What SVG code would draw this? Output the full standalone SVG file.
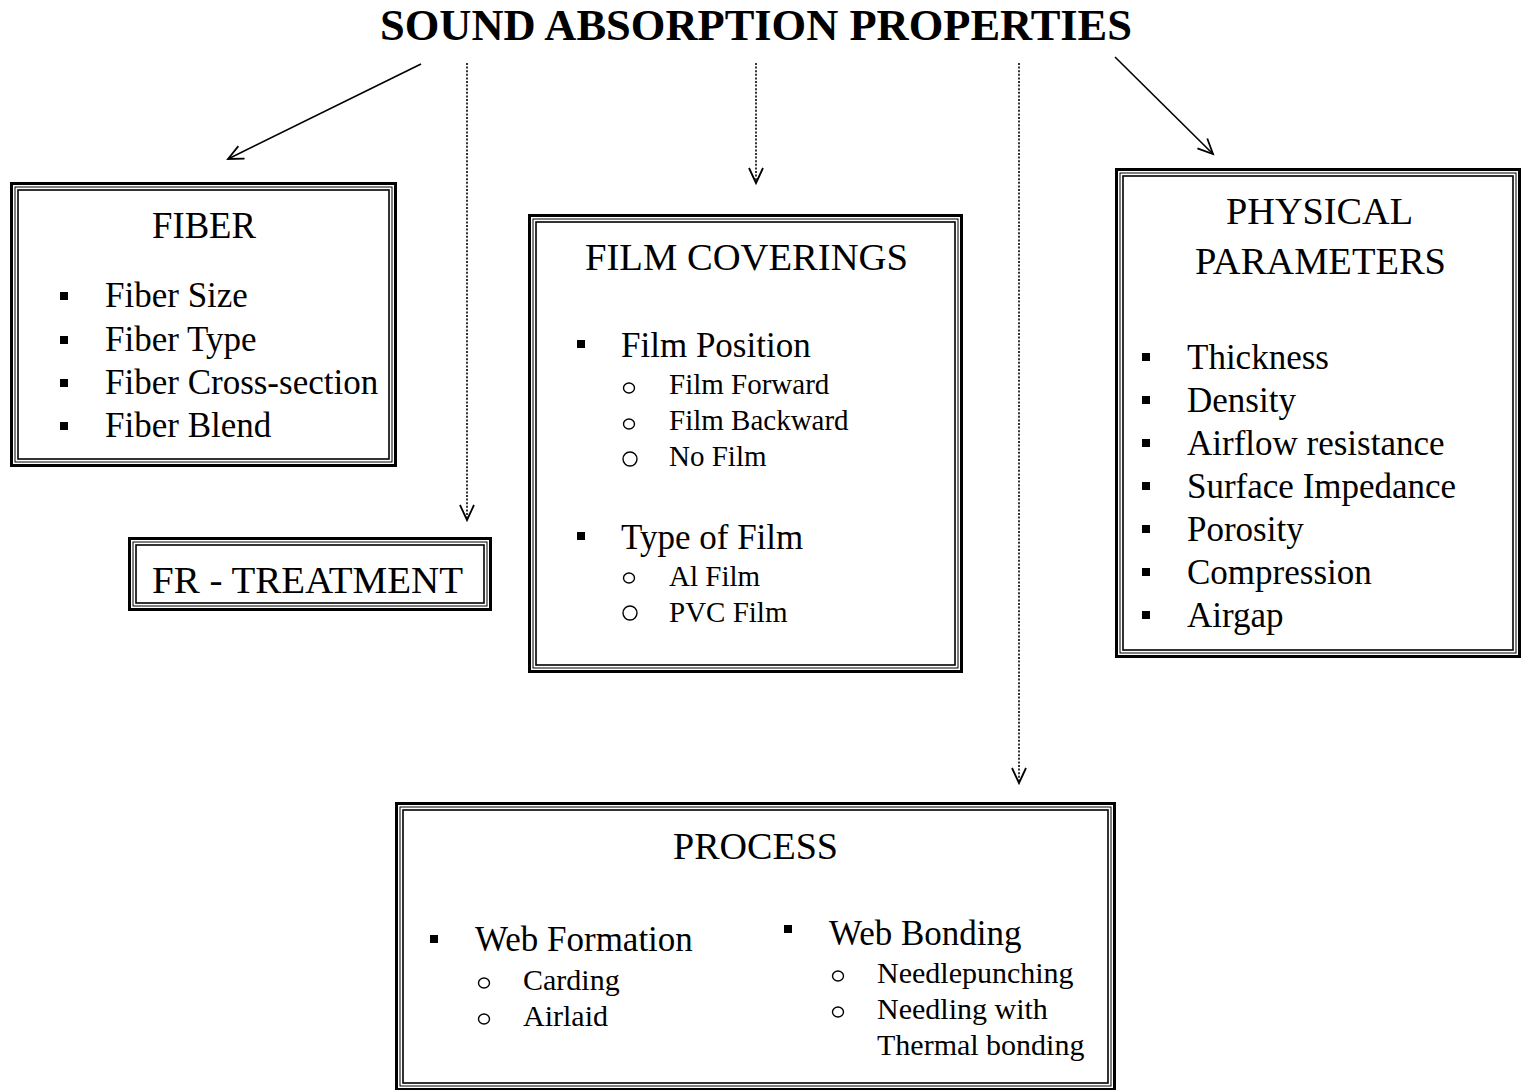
<svg xmlns="http://www.w3.org/2000/svg" width="1522" height="1090" viewBox="0 0 1522 1090">
<style>
text{font-family:"Liberation Serif","Times New Roman",serif;fill:#000}
.title{font-size:44px;font-weight:bold}
.head{font-size:38px}
.item{font-size:35px}
.sub{font-size:29px}
.sub2{font-size:30px}
.b1{fill:none;stroke:#000;stroke-width:3}
.b2{fill:none;stroke:#000;stroke-width:1}
.b3{fill:none;stroke:#000;stroke-width:1.6}
.sq{fill:#000}
.ci{fill:none;stroke:#000;stroke-width:1.4}
.solid{fill:none;stroke:#000;stroke-width:1.6}
.dot{fill:none;stroke:#333;stroke-width:2;stroke-dasharray:2 1.6}
</style>
<defs>
<marker id="ah" markerUnits="userSpaceOnUse" markerWidth="24" markerHeight="24" refX="16" refY="8" orient="auto" viewBox="0 0 24 16">
<path d="M1,1 L16,8 L1,15" fill="none" stroke="#000" stroke-width="1.8" stroke-dasharray="none"/>
</marker>
</defs>

<text class="title" x="380" y="40" textLength="752" lengthAdjust="spacingAndGlyphs">SOUND ABSORPTION PROPERTIES</text>

<g id="connectors">
<line class="solid" x1="421" y1="64" x2="228" y2="159" marker-end="url(#ah)"/>
<line class="dot" x1="467" y1="63" x2="467" y2="520" marker-end="url(#ah)"/>
<line class="dot" x1="756" y1="63" x2="756" y2="183" marker-end="url(#ah)"/>
<line class="dot" x1="1019" y1="63" x2="1019" y2="783" marker-end="url(#ah)"/>
<line class="solid" x1="1115" y1="57" x2="1213" y2="154" marker-end="url(#ah)"/>
</g>

<g id="fiber">
<rect class="b1" x="11.5" y="183.5" width="384" height="282"/>
<rect class="b2" x="15" y="187" width="377" height="275"/>
<rect class="b3" x="18" y="190" width="371" height="269"/>
<text class="head" x="204" y="238" text-anchor="middle" textLength="104" lengthAdjust="spacingAndGlyphs">FIBER</text>
<rect class="sq" x="60" y="292" width="8" height="8"/>
<rect class="sq" x="60" y="336" width="8" height="8"/>
<rect class="sq" x="60" y="379" width="8" height="8"/>
<rect class="sq" x="60" y="422" width="8" height="8"/>
<text class="item" x="105" y="307">Fiber Size</text>
<text class="item" x="105" y="351">Fiber Type</text>
<text class="item" x="105" y="394">Fiber Cross-section</text>
<text class="item" x="105" y="437">Fiber Blend</text>
</g>

<g id="fr-treatment">
<rect class="b1" x="129.5" y="538.5" width="361" height="71"/>
<rect class="b2" x="133" y="542" width="354" height="64"/>
<rect class="b3" x="136" y="545" width="348" height="58"/>
<text class="head" x="152" y="593" textLength="311" lengthAdjust="spacingAndGlyphs">FR - TREATMENT</text>
</g>

<g id="film-coverings">
<rect class="b1" x="529.5" y="215.5" width="432" height="456"/>
<rect class="b2" x="533" y="219" width="425" height="449"/>
<rect class="b3" x="536" y="222" width="419" height="443"/>
<text class="head" x="585" y="270" textLength="323" lengthAdjust="spacingAndGlyphs">FILM COVERINGS</text>
<rect class="sq" x="577" y="340" width="8" height="8"/>
<text class="item" x="621" y="357">Film Position</text>
<ellipse class="ci" cx="629" cy="388" rx="5.5" ry="5"/>
<ellipse class="ci" cx="629" cy="424" rx="5.5" ry="5"/>
<ellipse class="ci" cx="630" cy="459" rx="7" ry="7"/>
<text class="sub" x="669" y="394">Film Forward</text>
<text class="sub" x="669" y="430">Film Backward</text>
<text class="sub" x="669" y="466">No Film</text>
<rect class="sq" x="577" y="532" width="8" height="8"/>
<text class="item" x="621" y="549">Type of Film</text>
<ellipse class="ci" cx="629" cy="578" rx="5.5" ry="5"/>
<ellipse class="ci" cx="630" cy="613" rx="7" ry="7"/>
<text class="sub" x="669" y="586">Al Film</text>
<text class="sub" x="669" y="622">PVC Film</text>
</g>

<g id="physical-parameters">
<rect class="b1" x="1116.5" y="169.5" width="403" height="487"/>
<rect class="b2" x="1120" y="173" width="396" height="480"/>
<rect class="b3" x="1123" y="176" width="390" height="474"/>
<text class="head" x="1226" y="224" textLength="187" lengthAdjust="spacingAndGlyphs">PHYSICAL</text>
<text class="head" x="1195" y="274" textLength="251" lengthAdjust="spacingAndGlyphs">PARAMETERS</text>
<rect class="sq" x="1142" y="353" width="8" height="8"/>
<rect class="sq" x="1142" y="396" width="8" height="8"/>
<rect class="sq" x="1142" y="439" width="8" height="8"/>
<rect class="sq" x="1142" y="482" width="8" height="8"/>
<rect class="sq" x="1142" y="525" width="8" height="8"/>
<rect class="sq" x="1142" y="568" width="8" height="8"/>
<rect class="sq" x="1142" y="611" width="8" height="8"/>
<text class="item" x="1187" y="369">Thickness</text>
<text class="item" x="1187" y="412">Density</text>
<text class="item" x="1187" y="455">Airflow resistance</text>
<text class="item" x="1187" y="498">Surface Impedance</text>
<text class="item" x="1187" y="541">Porosity</text>
<text class="item" x="1187" y="584">Compression</text>
<text class="item" x="1187" y="627">Airgap</text>
</g>

<g id="process">
<rect class="b1" x="396.5" y="803.5" width="718" height="286"/>
<rect class="b2" x="400" y="807" width="711" height="279"/>
<rect class="b3" x="403" y="810" width="705" height="273"/>
<text class="head" x="673" y="859" textLength="165" lengthAdjust="spacingAndGlyphs">PROCESS</text>
<rect class="sq" x="430" y="935" width="8" height="8"/>
<text class="item" x="475" y="951">Web Formation</text>
<ellipse class="ci" cx="484" cy="983" rx="5.5" ry="5"/>
<ellipse class="ci" cx="484" cy="1019" rx="5.5" ry="5"/>
<text class="sub2" x="523" y="990">Carding</text>
<text class="sub2" x="523" y="1026">Airlaid</text>
<rect class="sq" x="784" y="925" width="8" height="8"/>
<text class="item" x="829" y="945">Web Bonding</text>
<ellipse class="ci" cx="838" cy="976" rx="5.5" ry="5"/>
<ellipse class="ci" cx="838" cy="1012" rx="5.5" ry="5"/>
<text class="sub2" x="877" y="983">Needlepunching</text>
<text class="sub2" x="877" y="1019">Needling with</text>
<text class="sub2" x="877" y="1055">Thermal bonding</text>
</g>
</svg>
